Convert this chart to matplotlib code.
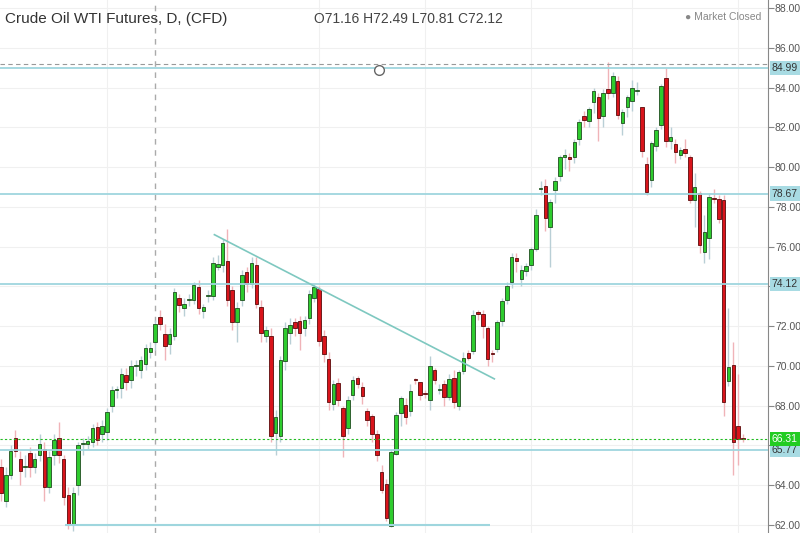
import matplotlib
matplotlib.use("Agg")
import matplotlib.pyplot as plt
from matplotlib.transforms import blended_transform_factory

O = [64.9,63.2,64.5,66.4,65.3,64.9,65.6,64.9,65.5,65.8,63.9,65.5,66.4,65.3,63.5,62.0,64.0,66.05,66.1,66.2,
66.95,66.6,66.7,67.97,68.8,68.9,69.55,69.3,70.0,69.8,70.1,70.7,71.2,72.45,71.6,71.1,71.5,73.4,72.9,73.3,
73.3,73.97,72.75,73.5,73.5,75.0,75.1,75.3,73.8,72.2,73.3,74.7,74.1,75.1,72.95,71.5,71.5,66.63,66.5,70.25,
71.67,72.2,72.25,71.92,72.42,73.4,73.88,71.53,70.33,68.1,69.13,67.88,66.88,68.53,69.38,68.92,67.72,67.47,66.58,64.67,
64.08,61.95,65.58,67.62,68.03,67.75,69.32,69.17,68.6,68.3,69.78,68.8,69.08,68.42,69.37,68.0,69.75,70.63,70.75,72.65,
72.63,71.92,70.6,70.83,72.28,73.3,74.2,75.42,74.37,74.78,75.08,75.88,78.88,79.03,76.97,78.83,79.55,80.53,80.53,80.53,
81.42,82.55,82.33,83.28,83.53,82.55,83.95,83.7,84.33,82.2,83.03,83.33,83.83,83.0,80.13,79.33,81.08,82.12,84.5,81.33,
81.17,80.63,80.92,80.5,78.33,78.72,75.72,76.45,78.45,78.37,78.33,69.25,70.05,67.0,66.33]
C = [63.6,64.5,65.7,65.7,64.7,64.9,64.9,65.3,66.1,63.9,65.4,66.3,65.5,63.4,62.0,63.6,66.0,66.1,66.25,66.9,
66.3,67.0,67.7,68.8,68.8,69.6,69.2,70.0,70.0,70.3,70.9,70.9,72.1,72.1,71.0,71.6,73.7,73.05,73.1,73.3,
74.05,72.9,72.98,73.5,75.2,75.15,76.2,73.3,72.2,72.9,74.55,74.1,75.2,73.1,71.67,71.83,66.47,67.42,70.3,71.92,
72.05,71.92,71.67,72.33,73.6,73.95,71.25,70.58,68.17,69.08,68.3,66.5,68.3,69.28,69.1,68.47,67.3,66.58,65.5,63.75,
62.37,65.67,67.55,68.38,67.42,68.75,69.28,68.53,68.58,70.0,69.28,68.85,68.42,69.33,68.17,69.72,70.42,70.42,72.58,72.63,
72.0,70.33,70.58,72.22,73.28,74.0,75.47,75.28,74.83,75.0,75.87,77.58,78.88,77.42,78.25,79.28,80.5,80.53,80.42,81.28,
82.25,82.38,82.92,83.8,82.47,83.72,83.72,84.58,82.62,82.78,83.5,84.0,83.83,80.8,78.75,81.22,81.88,84.08,81.3,81.53,
80.78,80.87,80.72,78.33,79.0,76.08,76.75,78.5,78.37,77.38,68.17,69.95,66.2,66.33,66.31]
H = [65.3,64.9,66.0,66.8,65.7,65.5,65.9,65.6,66.6,66.2,65.7,66.6,67.2,65.5,63.9,63.9,66.2,66.4,66.5,67.1,
67.2,67.3,67.9,69.0,69.0,69.9,69.9,70.3,70.3,70.5,71.1,71.2,72.3,72.8,72.1,71.9,73.9,73.6,73.4,73.6,
74.2,74.3,73.1,73.8,75.5,75.6,76.4,76.9,74.0,73.2,74.8,75.0,75.5,75.5,73.3,72.0,71.9,67.8,70.5,72.2,
72.4,72.4,72.5,72.5,73.8,74.1,74.0,71.8,70.7,69.3,69.4,68.0,68.5,69.5,69.5,69.2,67.9,67.6,66.8,65.0,
64.3,65.8,67.7,68.5,68.4,69.1,69.4,69.2,68.8,70.5,69.9,69.1,69.3,69.6,69.8,69.8,70.7,70.8,72.8,72.8,
72.8,72.0,70.8,72.3,73.4,74.2,75.7,75.7,75.1,75.2,76.0,77.9,79.3,79.4,78.4,79.5,80.6,80.9,80.7,81.4,
82.4,82.8,83.0,84.0,83.7,83.9,85.3,84.8,84.6,82.9,83.6,84.4,84.3,83.0,80.5,81.3,82.0,84.2,85.0,82.0,
81.4,81.0,81.4,80.6,79.7,78.8,77.6,78.7,78.9,78.6,78.6,72.9,71.2,69.6,66.6]
L = [63.2,62.9,64.3,65.4,64.0,64.4,64.4,64.6,65.2,63.2,63.6,65.0,65.1,63.0,61.8,61.7,63.5,65.5,65.8,65.9,
66.0,66.2,66.3,67.7,68.4,68.4,68.8,68.9,69.5,69.4,69.8,70.4,70.8,71.8,70.3,70.6,71.3,72.7,72.5,73.0,
73.1,72.6,72.4,73.2,73.3,74.8,74.7,73.0,71.8,71.2,73.0,73.7,73.9,72.9,71.2,71.2,66.2,65.5,66.2,69.8,
71.1,71.5,70.8,71.5,72.1,73.2,71.0,70.2,67.8,67.8,68.0,65.4,66.6,68.3,68.9,68.1,67.0,66.2,65.2,63.6,
62.2,61.9,65.5,67.0,67.1,67.5,69.1,68.3,68.4,67.8,69.1,68.6,68.0,68.3,67.9,67.8,69.6,70.3,70.6,72.3,
71.4,70.0,70.2,70.7,72.0,73.1,73.9,74.7,74.0,74.5,74.8,75.8,78.6,76.8,75.0,78.2,79.3,79.9,79.8,80.2,
81.1,82.0,82.0,82.7,81.3,82.0,83.4,83.5,82.4,81.6,82.5,82.8,83.6,80.5,78.6,79.0,80.8,81.9,81.0,80.9,
80.2,80.4,80.5,78.2,77.0,75.7,75.2,75.4,78.2,77.2,67.5,69.0,64.5,65.0,66.2]

levels = [84.99, 78.67, 74.12, 65.77]
last_price = 66.31
yticks = [62,64,66,68,70,72,74,76,78,80,82,84,86,88]

plt.rcParams['font.family'] = ['Liberation Sans', 'DejaVu Sans']
fig = plt.figure(figsize=(8, 5.33), dpi=100)
ax = fig.add_axes([0, 0, 768/800, 1])
n = len(O)
ax.set_xlim(-0.2, 159.2)
ax.set_ylim(61.6, 88.4)

for y in yticks:
    ax.axhline(y, color='#f0f0f0', lw=0.8, zorder=0)
for xv in [22, 66, 88, 110, 131, 153]:
    ax.axvline(xv, color='#f0f0f0', lw=0.8, zorder=0)
ax.axvline(32, color='#aaaaaa', lw=1, ls=(0, (4, 4)), zorder=1)

for i in range(n):
    up = C[i] >= O[i]
    fc = '#2ecc2e' if up else '#d9141b'
    wc = '#b9cfd6' if up else '#f0b3b8'
    ax.vlines(i, L[i], H[i], color=wc, lw=1, zorder=2)
    lo, hi = min(O[i], C[i]), max(O[i], C[i])
    ax.bar(i, max(hi - lo, 0.06), bottom=lo, width=0.72, color=fc,
           edgecolor='#1f4d1f' if up else '#5a0a0a', linewidth=0.6, zorder=3)

lc = '#9fd6de'
for lv in levels:
    ax.axhline(lv, color=lc, lw=1.3, zorder=4)
ax.axhline(85.2, color='#999999', lw=0.8, ls=(0, (4, 3)), zorder=4)
ax.hlines(62.0, 13.3, 101.5, color=lc, lw=1.5, zorder=4)
ax.axhline(last_price, color='#22bb22', lw=0.8, ls=(0, (2, 2)), zorder=4)
ax.plot([44.3, 102.4], [76.6, 69.35], color='#7ec8c0', lw=1.2, zorder=4)
ax.plot([78.5], [84.9], 'o', mfc='white', mec='#666666', ms=7, zorder=5)

for s in ['top', 'left', 'bottom']:
    ax.spines[s].set_visible(False)
ax.spines['right'].set_color('#888888')
ax.set_xticks([])
ax.yaxis.tick_right()
shown = [v for v in yticks if min(abs(v - lv) for lv in levels + [last_price]) > 0.5]
ax.set_yticks(yticks)
ax.set_yticklabels([f"{v:.2f}" if v in shown else "" for v in yticks], fontsize=7.5, color='#555555')
ax.tick_params(axis='y', length=4, color='#888888', pad=1)

tr = blended_transform_factory(ax.transAxes, ax.transData)
for lv in levels:
    ax.text(1.005, lv, f"{lv:.2f}", transform=tr, fontsize=7.5, color='#333333', va='center',
            ha='left', zorder=10, clip_on=False,
            bbox=dict(boxstyle='square,pad=0.2', fc='#a8dbe3', ec='none'))
ax.text(1.005, last_price, f"{last_price:.2f}", transform=tr, fontsize=7.5, color='white', va='center',
        ha='left', zorder=11, clip_on=False,
        bbox=dict(boxstyle='square,pad=0.2', fc='#22cc22', ec='none'))

fig.text(5/800, 1 - 19/533, "Crude Oil WTI Futures, D, (CFD)", fontsize=11, color='#333333', va='center')
fig.text(314/800, 1 - 19/533, "O71.16 H72.49 L70.81 C72.12", fontsize=10, color='#444444', va='center')
fig.text(685/800, 1 - 17/533, "● Market Closed", fontsize=7.5, color='#888888', va='center')

fig.savefig("out.png", dpi=100, facecolor='white')
